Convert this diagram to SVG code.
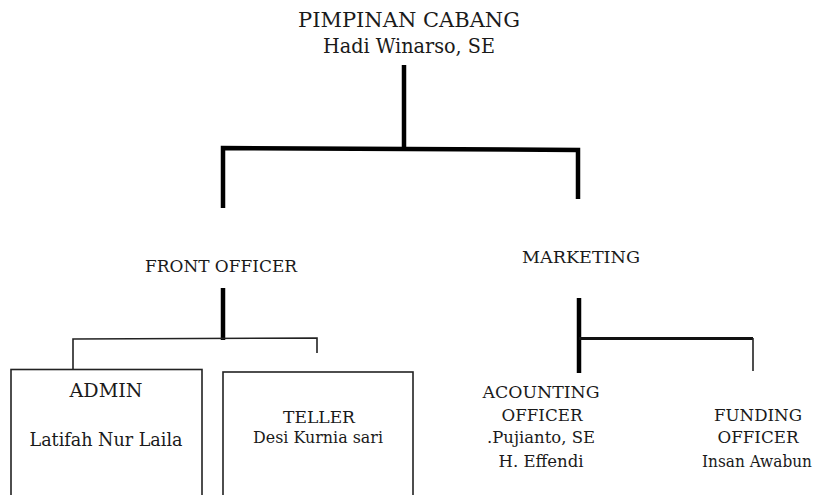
<svg xmlns="http://www.w3.org/2000/svg" width="820" height="495" viewBox="0 0 820 495">
<style>
.lbl{font-family:'DejaVu Serif', 'Liberation Serif', serif;fill:#1a1a1a;text-anchor:middle}
.t1{font-size:20.5px}
.t2{font-size:17.5px}
.t3{font-size:18.5px}
.t4{font-size:16.5px}
.thick{stroke:#000;stroke-width:4.5;fill:none}
.mid{stroke:#111;stroke-width:2.8;fill:none}
.thin{stroke:#222;stroke-width:1.6;fill:none}
.box{stroke:#222;stroke-width:1.6;fill:#fff}
</style>
<rect width="820" height="495" fill="#fff"/>
<g id="connectors">
<line class="thick" x1="404" y1="65" x2="404" y2="148"/>
<polyline class="thick" points="223,208 223,148 578,150 578,199"/>
<line class="thick" x1="223" y1="288" x2="223" y2="340"/>
<polyline class="thin" points="73,370 73,339 317,338 317,353"/>
<line class="thick" x1="579" y1="298" x2="579" y2="373"/>
<polyline class="mid" points="579,338.5 753,338.5"/>
<line class="thin" x1="753" y1="338" x2="753" y2="371"/>
</g>
<g id="pimpinan">
<text class="lbl t1" x="409" y="27" textLength="222" lengthAdjust="spacingAndGlyphs">PIMPINAN CABANG</text>
<text class="lbl t1" x="409" y="53" textLength="172" lengthAdjust="spacingAndGlyphs">Hadi Winarso, SE</text>
</g>
<g id="front-officer">
<text class="lbl t2" x="221" y="272" textLength="152" lengthAdjust="spacingAndGlyphs">FRONT OFFICER</text>
</g>
<g id="marketing">
<text class="lbl t2" x="581" y="263" textLength="118" lengthAdjust="spacingAndGlyphs">MARKETING</text>
</g>
<g id="admin">
<rect class="box" x="11" y="369.5" width="191" height="140"/>
<text class="lbl t3" x="106" y="397" textLength="73" lengthAdjust="spacingAndGlyphs">ADMIN</text>
<text class="lbl t3" x="106" y="446" textLength="153" lengthAdjust="spacingAndGlyphs">Latifah Nur Laila</text>
</g>
<g id="teller">
<rect class="box" x="223" y="372" width="190" height="140"/>
<text class="lbl t2" x="319" y="423" textLength="72" lengthAdjust="spacingAndGlyphs">TELLER</text>
<text class="lbl t2" x="318" y="443" textLength="130" lengthAdjust="spacingAndGlyphs">Desi Kurnia sari</text>
</g>
<g id="accounting">
<text class="lbl t2" x="541" y="398" textLength="117" lengthAdjust="spacingAndGlyphs">ACOUNTING</text>
<text class="lbl t2" x="542" y="421" textLength="81" lengthAdjust="spacingAndGlyphs">OFFICER</text>
<text class="lbl t2" x="541" y="443" textLength="108" lengthAdjust="spacingAndGlyphs">.Pujianto, SE</text>
<text class="lbl t2" x="541" y="467" textLength="85" lengthAdjust="spacingAndGlyphs">H. Effendi</text>
</g>
<g id="funding">
<text class="lbl t2" x="758" y="421" textLength="88" lengthAdjust="spacingAndGlyphs">FUNDING</text>
<text class="lbl t2" x="758" y="443" textLength="81" lengthAdjust="spacingAndGlyphs">OFFICER</text>
<text class="lbl t4" x="757" y="467" textLength="110" lengthAdjust="spacingAndGlyphs">Insan Awabun</text>
</g>
</svg>
